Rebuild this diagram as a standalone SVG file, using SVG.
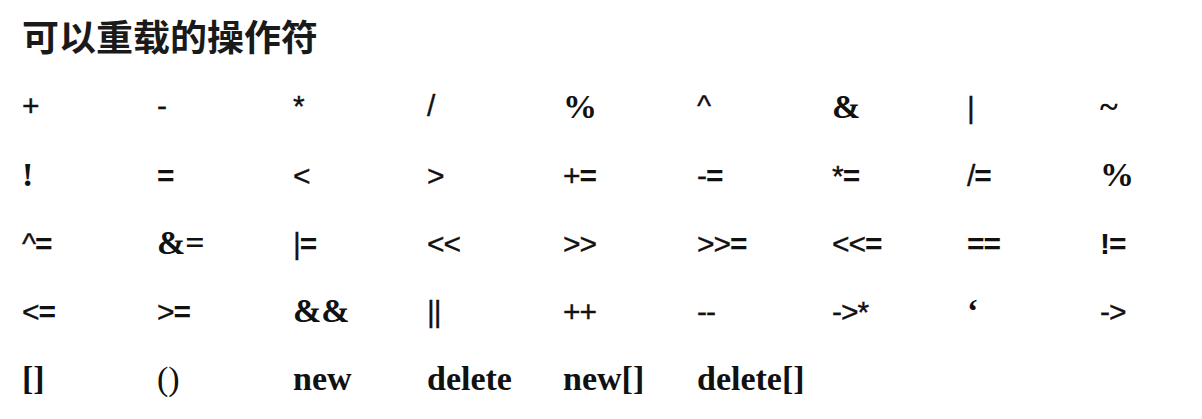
<svg xmlns="http://www.w3.org/2000/svg" width="1202" height="419" viewBox="0 0 1202 419">
<style>
.t{font-family:"Noto Sans CJK SC","Noto Sans",sans-serif;font-weight:bold;font-size:36px;fill:#1a1a1a}
.s{font-family:"Liberation Sans",Arial,sans-serif;font-size:30px;fill:#111;stroke:#111;stroke-width:0.35;letter-spacing:-1px}
.q{font-weight:bold;stroke:none}
.b{font-family:"Liberation Serif","Times New Roman",serif;font-weight:bold;font-size:34px;fill:#111}
.r{font-family:"Liberation Serif","Times New Roman",serif;font-size:34px;fill:#111}
</style>
<rect width="1202" height="419" fill="#fff"/>
<text class="t" x="22" y="51" textLength="296" lengthAdjust="spacingAndGlyphs">可以重载的操作符</text>
<g id="row1">
<text class="s" x="22" y="116">+</text>
<text class="s" x="157" y="116">-</text>
<text class="s" x="293" y="116">*</text>
<text class="s" x="427" y="116">/</text>
<text class="b" x="563" y="118">%</text>
<text class="s" x="697" y="116">^</text>
<text class="b" x="832" y="118">&amp;</text>
<text class="s" x="967" y="118">|</text>
<text class="b" x="1100" y="118">~</text>
</g>
<g id="row2">
<text class="b" x="22" y="186">!</text>
<text class="s" x="157" y="186"><tspan class="q">=</tspan></text>
<text class="s" x="293" y="186">&lt;</text>
<text class="s" x="427" y="186">&gt;</text>
<text class="s" x="563" y="186">+<tspan class="q">=</tspan></text>
<text class="s" x="697" y="186">-<tspan class="q">=</tspan></text>
<text class="s" x="832" y="186">*<tspan class="q">=</tspan></text>
<text class="s" x="967" y="186">/<tspan class="q">=</tspan></text>
<text class="b" x="1100" y="186">%</text>
</g>
<g id="row3">
<text class="s" x="22" y="254">^<tspan class="q">=</tspan></text>
<text class="b" x="157" y="254">&amp;=</text>
<text class="s" x="293" y="254">|<tspan class="q">=</tspan></text>
<text class="s" x="427" y="254">&lt;&lt;</text>
<text class="s" x="563" y="254">&gt;&gt;</text>
<text class="s" x="697" y="254">&gt;&gt;<tspan class="q">=</tspan></text>
<text class="s" x="832" y="254">&lt;&lt;<tspan class="q">=</tspan></text>
<text class="s" x="967" y="254"><tspan class="q">==</tspan></text>
<text class="s" x="1100" y="254"><tspan class="q">!=</tspan></text>
</g>
<g id="row4">
<text class="s" x="22" y="322">&lt;<tspan class="q">=</tspan></text>
<text class="s" x="157" y="322">&gt;<tspan class="q">=</tspan></text>
<text class="b" x="293" y="322">&amp;&amp;</text>
<text class="s" x="427" y="322">||</text>
<text class="s" x="563" y="322">++</text>
<text class="s" x="697" y="322">--</text>
<text class="s" x="832" y="322">-&gt;*</text>
<text class="b" x="967" y="322">‘</text>
<text class="s" x="1100" y="322">-&gt;</text>
</g>
<g id="row5">
<text class="b" x="22" y="390">[]</text>
<text class="r" x="157" y="390">()</text>
<text class="b" x="293" y="390">new</text>
<text class="b" x="427" y="390">delete</text>
<text class="b" x="563" y="390">new[]</text>
<text class="b" x="697" y="390">delete[]</text>
</g>
</svg>
